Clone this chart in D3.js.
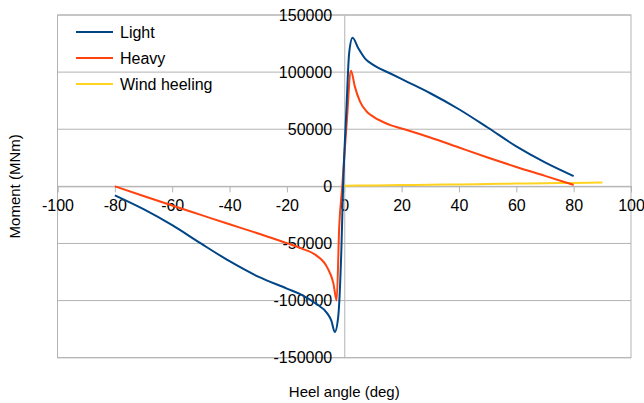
<!DOCTYPE html>
<html>
<head>
<meta charset="utf-8">
<script src="https://cdn.jsdelivr.net/npm/d3@7"></script>
<style>
	body { margin: 0; background: white; }
	text { font-family: "Liberation Sans", Arial, sans-serif; fill: #000; }
</style>
</head>
<body>
<svg id="chart" width="644" height="403"></svg>
<script>
// heel angle (deg), moment (MNm)
var lightAngle = [-80, -70, -60, -50, -40, -30, -20, -15, -10, -6, -4.5, -3.3, -2.1, -1, -0.4, 0.8, 1.7, 2.9, 4.9, 7.2, 10.1, 15.9, 21.8, 30, 40, 50, 60, 70, 80];
var lightMoment = [-7900, -20000, -34000, -50000, -65500, -79000, -89500, -94800, -102500, -111000, -117500, -127500, -114000, -55000, 0, 70000, 116500, 130000, 120900, 112100, 106300, 99000, 91700, 81500, 67500, 51500, 35000, 21000, 9000];

var heavyAngle = [-80, -70, -60, -50, -40, -30, -20, -15, -10, -6, -3.8, -2.65, -1.75, -0.7, 0.8, 2.35, 3.7, 5.5, 7.8, 10.1, 15.9, 21.8, 30, 40, 50, 60, 70, 80];
var heavyMoment = [0, -8500, -16800, -25000, -33200, -41300, -49700, -54300, -60000, -70700, -84700, -100000, -35000, 0, 53800, 101300, 87300, 74200, 65500, 61000, 53800, 49400, 42800, 34000, 25300, 17000, 9200, 1200];

var windAngle = [0, 10, 20, 30, 40, 50, 60, 70, 80, 90];
var windMoment = [600, 800, 1100, 1400, 1700, 2000, 2400, 2700, 3000, 3300];

var xTicks = [-100, -80, -60, -40, -20, 0, 20, 40, 60, 80, 100];
var yTicks = [-150000, -100000, -50000, 0, 50000, 100000, 150000];

var series = [
	{ name: "Light", color: "#004586", x: lightAngle, y: lightMoment },
	{ name: "Heavy", color: "#ff420e", x: heavyAngle, y: heavyMoment },
	{ name: "Wind heeling", color: "#ffd320", x: windAngle, y: windMoment }
];

var svg = d3.select("#chart"),
	margin = { top: 15, right: 13, bottom: 45.3, left: 57.5 },
	width = +svg.attr("width"),
	height = +svg.attr("height");

var x = d3.scaleLinear().domain([-100, 100]).range([margin.left, width - margin.right]);
var y = d3.scaleLinear().domain([-150000, 150000]).range([height - margin.bottom, margin.top]);

var grid = "#b3b3b3";

// horizontal grid lines
svg.append("g")
	.selectAll("line")
	.data(yTicks)
	.enter().append("line")
	.attr("x1", x(-100))
	.attr("x2", x(100))
	.attr("y1", function (d) { return y(d); })
	.attr("y2", function (d) { return y(d); })
	.attr("stroke", grid)
	.attr("stroke-width", 1);

// plot frame
svg.append("rect")
	.attr("x", x(-100))
	.attr("y", y(150000))
	.attr("width", x(100) - x(-100))
	.attr("height", y(-150000) - y(150000))
	.attr("fill", "none")
	.attr("stroke", grid);

// axes crossing at zero
var xAxis = svg.append("g")
	.attr("transform", "translate(0," + y(0) + ")")
	.call(d3.axisBottom(x).tickValues(xTicks).tickSize(6).tickPadding(8).tickFormat(function (d) { return String(d); }));
var yAxis = svg.append("g")
	.attr("transform", "translate(" + x(0) + ",0)")
	.call(d3.axisLeft(y).tickValues(yTicks).tickSize(0).tickPadding(12).tickFormat(function (d) { return String(d); }));

[xAxis, yAxis].forEach(function (a) {
	a.select(".domain").attr("stroke", grid);
	a.selectAll(".tick line").attr("stroke", grid);
	a.selectAll(".tick text")
		.style("font-family", '"Liberation Sans", Arial, sans-serif')
		.style("font-size", "16px")
		.attr("fill", "#000");
});
xAxis.selectAll(".tick text").attr("y", 13);

// series lines
var line = d3.line()
	.x(function (d) { return x(d[0]); })
	.y(function (d) { return y(d[1]); })
	.curve(d3.curveMonotoneX);

svg.append("g")
	.selectAll("path")
	.data(series.slice().reverse())
	.enter().append("path")
	.attr("d", function (s) {
		return line(s.x.map(function (v, i) { return [v, s.y[i]]; }));
	})
	.attr("fill", "none")
	.attr("stroke", function (s) { return s.color; })
	.attr("stroke-width", 2);

// legend
var legend = svg.append("g")
	.selectAll("g")
	.data(series)
	.enter().append("g")
	.attr("transform", function (d, i) { return "translate(76," + (32 + i * 26) + ")"; });
legend.append("line")
	.attr("x1", 0)
	.attr("x2", 37)
	.attr("stroke", function (d) { return d.color; })
	.attr("stroke-width", 2);
legend.append("text")
	.attr("x", 44)
	.attr("dy", "0.35em")
	.style("font-size", "16px")
	.text(function (d) { return d.name; });

// axis titles
svg.append("text")
	.attr("x", (x(-100) + x(100)) / 2)
	.attr("y", 397)
	.attr("text-anchor", "middle")
	.style("font-size", "15px")
	.text("Heel angle (deg)");

svg.append("text")
	.attr("transform", "translate(20," + y(0) + ") rotate(-90)")
	.attr("text-anchor", "middle")
	.style("font-size", "15px")
	.text("Moment (MNm)");
</script>
</body>
</html>
